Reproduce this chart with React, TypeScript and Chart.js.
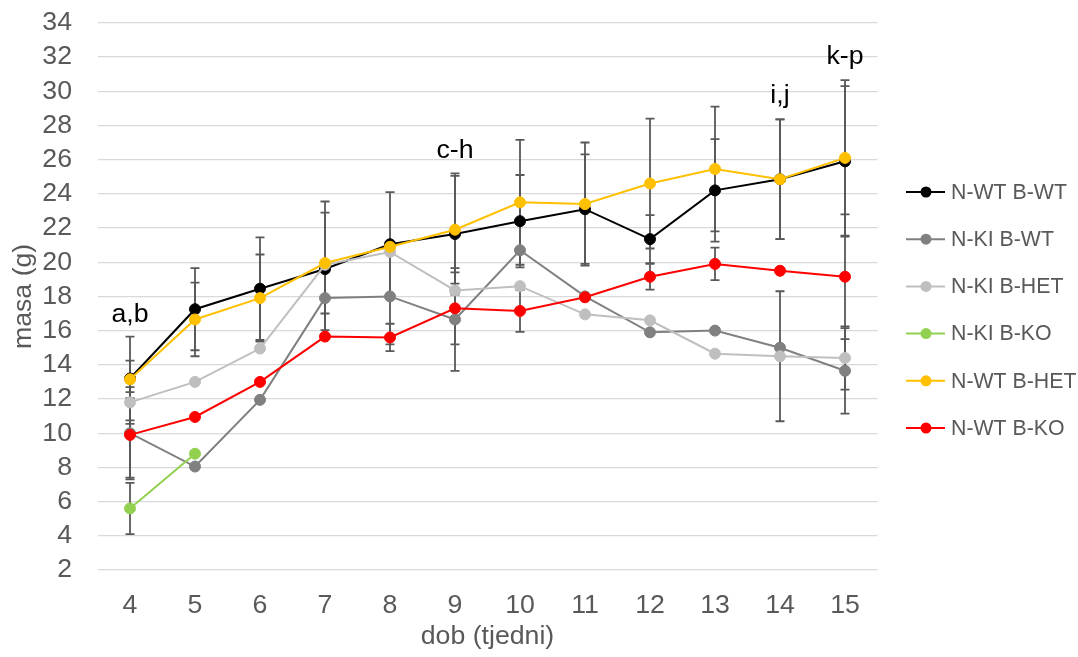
import React, { useEffect, useRef } from "react";
import { Chart, registerables } from "chart.js";

Chart.register(...registerables);

const categories = ["4", "5", "6", "7", "8", "9", "10", "11", "12", "13", "14", "15"];

const seriesNames = ["N-WT B-WT", "N-KI B-WT", "N-KI B-HET", "N-KI B-KO", "N-WT B-HET", "N-WT B-KO"];
const seriesColors = ["#000000", "#808080", "#bfbfbf", "#92d050", "#ffc000", "#ff0000"];

const nwtBwt = [13.2, 17.25, 18.45, 19.6, 21.05, 21.65, 22.4, 23.1, 21.35, 24.2, 24.85, 25.9];
const nkiBwt = [10.0, 8.05, 11.95, 17.9, 18.0, 16.65, 20.7, 18.0, 15.9, 16.0, 15.0, 13.65];
const nkiBhet = [11.8, 13.0, 14.95, 19.85, 20.6, 18.35, 18.6, 16.95, 16.6, 14.65, 14.5, 14.4];
const nkiBko = [5.6, 8.8, null, null, null, null, null, null, null, null, null, null];
const nwtBhet = [13.15, 16.65, 17.9, 19.95, 20.9, 21.9, 23.5, 23.4, 24.6, 25.45, 24.85, 26.1];
const nwtBko = [9.9, 10.95, 13.0, 15.65, 15.6, 17.3, 17.15, 17.95, 19.15, 19.9, 19.5, 19.15];

const errNwtBwt = [2.45, 2.4, 3.0, 3.95, 3.05, 3.55, 2.7, 3.2, 1.4, 3.0, 3.5, 4.4];
const errNkiBwt = [2.7, null, null, 1.87, 2.8, 3.0, null, null, null, null, null, 2.5];
const errNkiBhet = [1.26, null, null, null, null, null, null, null, null, null, 3.8, 1.85];
const errNkiBko = [1.5, null, null, null, null, null, null, null, null, null, null, null];
const errNwtBhet = [1.1, 2.15, 2.55, 2.95, null, 3.15, 3.65, 3.6, 3.8, 3.65, 3.5, 4.55];
const errNwtBko = [2.5, null, null, null, 0.8, 2.1, 1.22, null, 0.75, 0.95, null, 3.65];

const annotationTexts = ["a,b", "c-h", "i,j", "k-p"];
const annotationCategories = ["4", "9", "14", "15"];
const annotationValues = [16.5, 26.1, 29.3, 31.6];

const yMin = 2;
const yMax = 34;
const yStep = 2;

const FONT = "'Liberation Sans', Arial, sans-serif";
const TEXT_GRAY = "#595959";

const allValues = [nwtBwt, nkiBwt, nkiBhet, nkiBko, nwtBhet, nwtBko];
const allErrors = [errNwtBwt, errNkiBwt, errNkiBhet, errNkiBko, errNwtBhet, errNwtBko];

const errorBarPlugin = {
  id: "errorBars",
  beforeDatasetsDraw(chart: any) {
    const ctx = chart.ctx;
    const yScale = chart.scales.y;
    ctx.save();
    ctx.strokeStyle = "#595959";
    ctx.lineWidth = 1.8;
    chart.data.datasets.forEach((ds: any, i: number) => {
      const meta = chart.getDatasetMeta(i);
      const errs = ds.errors as (number | null)[];
      ds.data.forEach((v: number | null, j: number) => {
        const e = errs[j];
        if (v == null || e == null) return;
        const x = meta.data[j].x;
        const yTop = yScale.getPixelForValue(v + e);
        const yBot = yScale.getPixelForValue(v - e);
        const cap = 4.5;
        ctx.beginPath();
        ctx.moveTo(x, yTop);
        ctx.lineTo(x, yBot);
        ctx.moveTo(x - cap, yTop);
        ctx.lineTo(x + cap, yTop);
        ctx.moveTo(x - cap, yBot);
        ctx.lineTo(x + cap, yBot);
        ctx.stroke();
      });
    });
    ctx.restore();
  },
};

const overlayPlugin = {
  id: "overlay",
  afterDraw(chart: any) {
    const ctx = chart.ctx;
    const xScale = chart.scales.x;
    const yScale = chart.scales.y;
    ctx.save();
    // annotations
    ctx.fillStyle = "#000000";
    ctx.font = `26.7px ${FONT}`;
    ctx.textAlign = "center";
    ctx.textBaseline = "alphabetic";
    annotationTexts.forEach((t, i) => {
      const x = xScale.getPixelForValue(categories.indexOf(annotationCategories[i]));
      const y = yScale.getPixelForValue(annotationValues[i]);
      ctx.fillText(t, x, y);
    });
    // legend
    const lx0 = 906;
    const lx1 = 945;
    const mx = 926;
    const tx = 951;
    const y0 = 192;
    const dy = 47.2;
    ctx.font = `21.3px ${FONT}`;
    ctx.textAlign = "left";
    ctx.textBaseline = "middle";
    chart.data.datasets.forEach((ds: any, i: number) => {
      const y = y0 + i * dy;
      ctx.strokeStyle = ds.borderColor;
      ctx.lineWidth = 2;
      ctx.beginPath();
      ctx.moveTo(lx0, y);
      ctx.lineTo(lx1, y);
      ctx.stroke();
      ctx.fillStyle = ds.backgroundColor;
      ctx.beginPath();
      ctx.arc(mx, y, 5.5, 0, Math.PI * 2);
      ctx.fill();
      ctx.fillStyle = TEXT_GRAY;
      ctx.fillText(ds.label, tx, y + 1);
    });
    ctx.restore();
  },
};

export default function App() {
  const canvasRef = useRef<HTMLCanvasElement | null>(null);

  useEffect(() => {
    const canvas = canvasRef.current;
    if (!canvas) return;
    const datasets = seriesNames.map((name, i) => ({
      label: name,
      data: allValues[i],
      errors: allErrors[i],
      borderColor: seriesColors[i],
      backgroundColor: seriesColors[i],
      pointBackgroundColor: seriesColors[i],
      pointBorderColor: seriesColors[i],
      borderWidth: 2,
      pointRadius: 5.5,
      pointBorderWidth: 1,
      tension: 0,
      spanGaps: false,
      order: seriesNames.length - i,
    }));
    const chart = new Chart(canvas, {
      type: "line",
      data: { labels: categories, datasets: datasets as any },
      options: {
        responsive: false,
        animation: false,
        devicePixelRatio: 1,
        layout: { padding: { top: 22.8, right: 200.5, left: 0, bottom: 0 } },
        plugins: {
          legend: { display: false },
          tooltip: { enabled: false },
        },
        scales: {
          x: {
            type: "category",
            offset: true,
            grid: { display: false, drawTicks: false },
            border: { display: false },
            ticks: {
              color: TEXT_GRAY,
              font: { family: FONT, size: 26.7 },
              padding: 20,
              maxRotation: 0,
              autoSkip: false,
            },
            title: {
              display: true,
              text: "dob (tjedni)",
              color: TEXT_GRAY,
              font: { family: FONT, size: 26.7 },
              padding: { top: 0, bottom: 4 },
            },
            afterFit(scale: any) {
              scale.height = 87;
              scale.paddingLeft = 0;
              scale.paddingRight = 0;
            },
          },
          y: {
            min: yMin,
            max: yMax,
            grid: { color: "#d9d9d9", lineWidth: 1.3, drawTicks: false },
            border: { display: false },
            ticks: {
              stepSize: yStep,
              autoSkip: false,
              color: TEXT_GRAY,
              font: { family: FONT, size: 26.7 },
              padding: 25.5,
            },
            title: {
              display: true,
              text: "masa (g)",
              color: TEXT_GRAY,
              font: { family: FONT, size: 26.7 },
              padding: { top: 8, bottom: 0 },
            },
            afterFit(scale: any) {
              scale.width = 97.5;
              scale.paddingTop = 0;
              scale.paddingBottom = 0;
            },
          },
        },
      } as any,
      plugins: [errorBarPlugin, overlayPlugin],
    });
    return () => chart.destroy();
  }, []);

  return (
    <div style={{ position: "absolute", left: 0, top: 0, width: 1078, height: 657, background: "#fff" }}>
      <canvas ref={canvasRef} width={1078} height={657} style={{ display: "block" }} />
    </div>
  );
}
